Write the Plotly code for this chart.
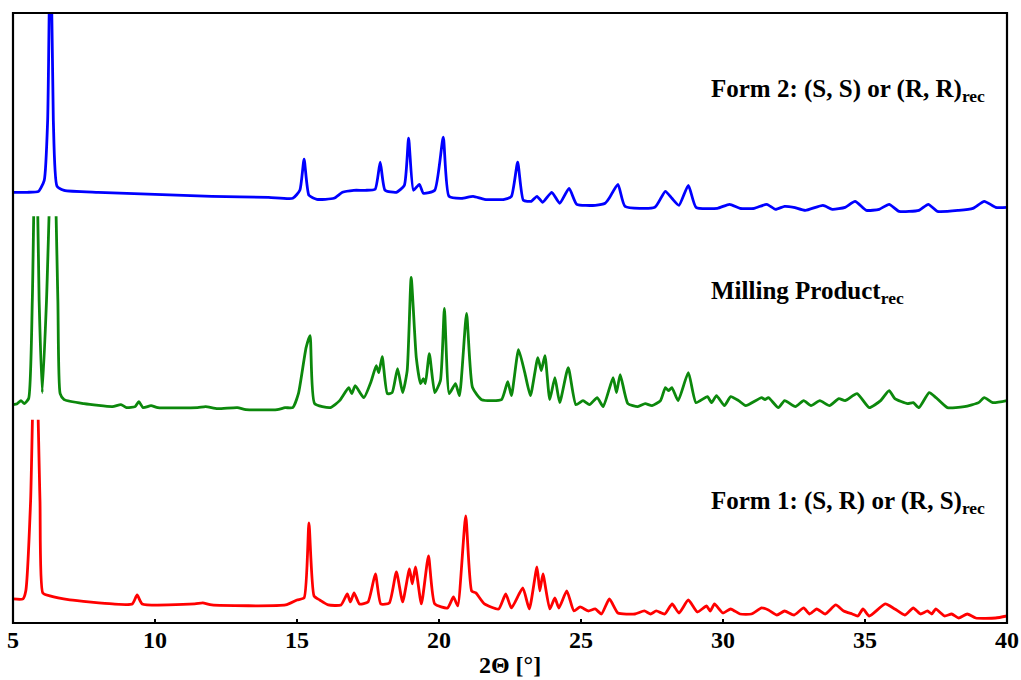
import plotly.graph_objects as go
from plotly.subplots import make_subplots

# ---------------- data (arbitrary intensity units) ----------------
form2_x = [5.0, 5.5, 5.9, 6.1, 6.22, 6.32, 6.42, 6.55, 6.8, 8.0, 10.0, 12.0, 14.0, 14.85, 15.1, 15.25,
           15.42, 15.7, 16.3, 16.6, 17.0, 17.4, 17.75, 17.93, 18.1, 18.5, 18.78, 18.93, 19.1, 19.31,
           19.45, 19.85, 20.15, 20.35, 20.8, 21.2, 21.6, 22.3, 22.55, 22.77, 22.97, 23.25, 23.45,
           23.65, 23.97, 24.25, 24.58, 24.85, 25.5, 25.85, 25.99, 26.3, 26.55, 27.6, 27.97, 28.2,
           28.45, 28.78, 29.05, 29.8, 30.23, 30.6, 31.1, 31.54, 31.85, 32.17, 32.49, 32.9, 33.52,
           33.85, 34.3, 34.65, 35.05, 35.5, 35.85, 36.2, 36.9, 37.23, 37.55, 38.3, 38.8, 39.2, 39.6, 40.0]
form2_y = [24, 24, 25, 36, 96, 300, 96, 30, 26, 24, 22, 20, 19, 18, 26, 57,
           21, 17, 18, 24, 26, 26, 27, 54, 26, 24, 31, 78, 26, 32,
           23, 26, 79, 20, 18, 20, 17, 17, 20, 54, 16, 15, 20,
           14, 24, 13, 28, 12, 11, 13, 18, 32, 10, 9, 25, 18,
           11, 31, 9, 8, 12, 8, 8, 12, 7, 10, 9, 6, 11,
           7, 9, 15, 6, 7, 12, 5, 6, 12, 5, 6, 8, 15, 9, 9]

milling_x = [5.0, 5.15, 5.28, 5.4, 5.55, 5.68, 5.8, 5.92, 6.03, 6.18, 6.41, 6.58, 6.66, 6.8, 7.5, 8.5,
             8.8, 9.0, 9.3, 9.43, 9.58, 9.86, 10.1, 11.5, 11.78, 12.2, 12.9, 13.2, 14.3, 14.58, 14.85,
             15.05, 15.32, 15.46, 15.62, 16.17, 16.5, 16.82, 16.93, 17.05, 17.35, 17.62, 17.79, 17.88,
             18.0, 18.18, 18.35, 18.54, 18.72, 18.88, 19.02, 19.2, 19.35, 19.45, 19.52, 19.66, 19.85,
             20.05, 20.19, 20.36, 20.58, 20.72, 20.97, 21.18, 21.5, 22.2, 22.42, 22.55, 22.8, 23.02,
             23.22, 23.48, 23.6, 23.73, 23.9, 24.08, 24.25, 24.55, 24.82, 25.07, 25.3, 25.57, 25.78,
             26.13, 26.25, 26.38, 26.65, 27.0, 27.26, 27.5, 27.8, 27.97, 28.08, 28.2, 28.42, 28.78,
             29.05, 29.45, 29.6, 29.77, 30.05, 30.27, 30.55, 30.8, 31.36, 31.48, 31.6, 31.95, 32.17,
             32.55, 32.84, 33.1, 33.41, 33.75, 34.08, 34.3, 34.72, 35.15, 35.55, 35.85, 36.05, 36.5,
             36.7, 36.9, 37.26, 37.5, 37.9, 38.5, 39.0, 39.2, 39.5, 40.0]
milling_y = [15, 16, 19, 16, 21, 119, 320, 119, 27, 119, 320, 119, 26, 20, 16, 13,
             15, 12, 13, 18, 12, 14, 12, 12, 13, 11, 12, 10, 10, 12, 12,
             26, 72, 84, 16, 12, 19, 32, 26, 34, 22, 39, 54, 47,
             63, 26, 27, 51, 27, 49, 142, 62, 36, 41, 36, 66, 27,
             39, 111, 26, 36, 24, 106, 32, 20, 20, 38, 24, 70, 47,
             24, 62, 49, 64, 20, 42, 17, 52, 15, 19, 15, 22, 13,
             42, 27, 45, 16, 13, 16, 14, 19, 32, 29, 32, 19, 47,
             17, 23, 17, 24, 14, 23, 19, 14, 22, 20, 22, 12, 19,
             13, 19, 14, 19, 14, 21, 19, 26, 12, 19, 29, 21, 16,
             17, 12, 27, 22, 12, 13, 17, 22, 17, 19]

form1_x = [5.0, 5.35, 5.45, 5.62, 5.78, 5.95, 6.05, 6.3, 7.0, 8.5, 9.2, 9.37, 9.55, 11.4, 11.68, 12.0,
           14.6, 15.0, 15.25, 15.42, 15.6, 15.8, 16.1, 16.55, 16.77, 16.88, 17.01, 17.2, 17.5, 17.76,
           17.95, 18.25, 18.5, 18.72, 18.96, 19.06, 19.17, 19.38, 19.63, 19.85, 20.3, 20.51, 20.66,
           20.94, 21.15, 21.3, 21.6, 22.1, 22.35, 22.55, 22.95, 23.18, 23.45, 23.55, 23.66, 23.9,
           24.08, 24.22, 24.5, 24.75, 24.97, 25.25, 25.5, 25.72, 26.0, 26.3, 26.9, 27.23, 27.45,
           27.65, 27.95, 28.21, 28.45, 28.78, 29.1, 29.42, 29.55, 29.7, 30.0, 30.27, 30.6, 31.0,
           31.36, 31.6, 31.9, 32.17, 32.5, 32.84, 33.05, 33.3, 33.6, 33.97, 34.25, 34.55, 34.75,
           34.93, 35.15, 35.71, 36.05, 36.4, 36.7, 36.95, 37.2, 37.35, 37.49, 37.8, 38.05, 38.3,
           38.6, 38.9, 39.6, 40.0]
form1_y = [24, 24, 32, 122, 320, 122, 30, 27, 23, 19, 19, 28, 19, 19, 20, 18,
           18, 23, 25, 100, 27, 23, 18, 18, 29, 21, 30, 19, 21, 49,
           19, 20, 51, 21, 54, 39, 56, 19, 67, 19, 15, 26, 17,
           107, 32, 30, 19, 14, 29, 15, 35, 14, 56, 32, 49, 14,
           25, 15, 32, 12, 16, 12, 14, 9, 24, 10, 9, 12, 9,
           12, 9, 19, 10, 23, 11, 17, 12, 19, 10, 14, 9, 9,
           15, 13, 8, 12, 8, 15, 9, 14, 9, 18, 12, 9, 7,
           14, 7, 19, 14, 8, 15, 9, 12, 9, 14, 7, 9, 5,
           9, 5, 5, 7]

x_ticks = [5, 10, 15, 20, 25, 30, 35, 40]
labels = ["Form 2: (S, S) or (R, R)<sub>rec</sub>",
          "Milling Product<sub>rec</sub>",
          "Form 1: (S, R) or (R, S)<sub>rec</sub>"]
label_y = [126, 127, 120]
label_x = 29.52
x_title = "2Θ [°]"

# ---------------- figure ----------------
colors = ["#0000ff", "#0c880c", "#ff0000"]
series = [(form2_x, form2_y), (milling_x, milling_y), (form1_x, form1_y)]
FAM = "Liberation Serif, Times New Roman, serif"

fig = make_subplots(rows=3, cols=1, shared_xaxes=True, vertical_spacing=0)
for i, (xs, ys) in enumerate(series):
    fig.add_trace(go.Scatter(x=xs, y=ys, mode="lines",
                             line=dict(color=colors[i], width=2.8, shape="spline", smoothing=0.5),
                             showlegend=False, hoverinfo="skip"),
                  row=i + 1, col=1)
    fig.update_yaxes(range=[0, 203], visible=False, automargin=False, row=i + 1, col=1)
    fig.add_annotation(x=label_x, y=label_y[i], xref=f"x{i+1 if i else ''}",
                       yref=f"y{i+1 if i else ''}", text="<b>" + labels[i] + "</b>", showarrow=False,
                       xanchor="left", yanchor="middle",
                       font=dict(family=FAM, size=25, color="black"))

for r in (1, 2):
    fig.update_xaxes(range=[5, 40], showticklabels=False, ticks="", showgrid=False,
                     zeroline=False, showline=False, automargin=False, row=r, col=1)
fig.update_xaxes(range=[5, 40], tickvals=x_ticks, ticktext=[f"<b>{t}</b>" for t in x_ticks],
                 ticks="inside", ticklen=4, tickwidth=1.5,
                 tickcolor="black", tickfont=dict(family=FAM, size=24, color="black"),
                 showgrid=False, zeroline=False, automargin=False,
                 showline=False, title=dict(text="<b>" + x_title + "</b>",
                                            font=dict(family=FAM, size=24, color="black"),
                                            standoff=4),
                 row=3, col=1)

fig.add_shape(type="rect", xref="paper", yref="paper", x0=0, x1=1, y0=0, y1=1,
              line=dict(color="black", width=2.2), layer="above")

fig.update_layout(width=1021, height=680, margin=dict(l=13, r=14, t=13, b=57),
                  paper_bgcolor="white", plot_bgcolor="white")
fig.write_html("out.html", config={"displayModeBar": False},
               post_script="document.body.style.margin='0px';document.body.style.overflow='hidden';")
